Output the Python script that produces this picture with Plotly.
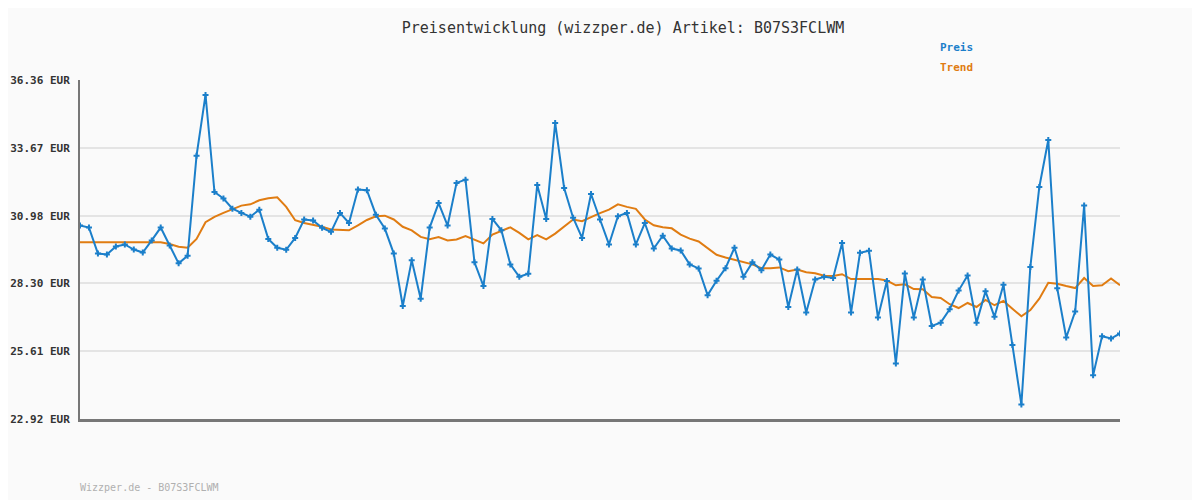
import plotly.graph_objects as go

title_text = "Preisentwicklung (wizzper.de) Artikel: B07S3FCLWM"
footer_text = "Wizzper.de - B07S3FCLWM"

preis = [
    30.59, 30.51, 29.48, 29.44, 29.76, 29.84, 29.64, 29.52, 30.00, 30.51,
    29.80, 29.09, 29.39, 33.36, 35.77, 31.92, 31.66, 31.26, 31.09, 30.94,
    31.22, 30.06, 29.71, 29.63, 30.10, 30.83, 30.79, 30.50, 30.34, 31.09,
    30.69, 32.02, 31.99, 31.02, 30.47, 29.48, 27.40, 29.21, 27.69, 30.51,
    31.48, 30.59, 32.28, 32.41, 29.13, 28.19, 30.85, 30.40, 29.05, 28.56,
    28.68, 32.20, 30.85, 34.66, 32.08, 30.90, 30.10, 31.84, 30.83, 29.84,
    30.96, 31.09, 29.84, 30.69, 29.68, 30.19, 29.68, 29.60, 29.05, 28.89,
    27.83, 28.40, 28.90, 29.71, 28.56, 29.13, 28.82, 29.44, 29.24, 27.36,
    28.85, 27.14, 28.45, 28.56, 28.51, 29.90, 27.14, 29.51, 29.59, 26.94,
    28.39, 25.12, 28.69, 26.94, 28.45, 26.61, 26.74, 27.27, 28.01, 28.61,
    26.74, 27.98, 26.97, 28.24, 25.85, 23.49, 28.95, 32.12, 33.98, 28.10,
    26.15, 27.18, 31.38, 24.65, 26.20, 26.11, 26.31,
]

trend = [
    29.93, 29.93, 29.93, 29.93, 29.93, 29.93, 29.93, 29.93, 29.93, 29.93,
    29.86, 29.75, 29.71, 30.06, 30.72, 30.93, 31.09, 31.25, 31.38, 31.43,
    31.59, 31.67, 31.71, 31.33, 30.80, 30.69, 30.63, 30.54, 30.43, 30.42,
    30.40, 30.60, 30.81, 30.96, 30.98, 30.83, 30.54, 30.40, 30.14, 30.05,
    30.13, 30.00, 30.04, 30.17, 30.04, 29.88, 30.23, 30.37, 30.52, 30.30,
    30.04, 30.21, 30.04, 30.27, 30.54, 30.83, 30.76, 30.93, 31.08, 31.22,
    31.43, 31.33, 31.25, 30.83, 30.60, 30.52, 30.48, 30.23, 30.07, 29.96,
    29.69, 29.43, 29.32, 29.23, 29.13, 29.05, 28.90, 28.90, 28.93, 28.78,
    28.85, 28.74, 28.70, 28.60, 28.59, 28.66, 28.47, 28.47, 28.49, 28.47,
    28.41, 28.22, 28.26, 28.07, 28.06, 27.76, 27.72, 27.47, 27.32, 27.52,
    27.36, 27.64, 27.43, 27.60, 27.29, 26.99, 27.24, 27.69, 28.32, 28.28,
    28.19, 28.11, 28.51, 28.19, 28.22, 28.49, 28.22,
]

y_ticks = [22.92, 25.61, 28.30, 30.98, 33.67, 36.36]
y_tick_labels = ["22.92 EUR", "25.61 EUR", "28.30 EUR", "30.98 EUR", "33.67 EUR", "36.36 EUR"]

x = list(range(len(preis)))

BLUE = "#1b7fca"
ORANGE = "#e07c12"
MONO = "DejaVu Sans Mono"

fig = go.Figure()
fig.add_trace(go.Scatter(
    x=x, y=trend, mode="lines", name="Trend",
    line=dict(color=ORANGE, width=2), hoverinfo="skip",
))
fig.add_trace(go.Scatter(
    x=x, y=preis, mode="lines+markers", name="Preis",
    line=dict(color=BLUE, width=2),
    marker=dict(symbol="cross", size=5, color=BLUE),
))

fig.update_layout(
    width=1200, height=500,
    margin=dict(l=72, r=88, t=72, b=89),
    paper_bgcolor="#fafafa", plot_bgcolor="#fafafa",
    showlegend=False,
    title=dict(text=title_text, x=0.5125, xref="container", xanchor="center",
               y=0.96, yref="container", yanchor="middle",
               font=dict(family=MONO, size=15, color="#333333")),
    xaxis=dict(range=[0, len(preis) - 1], showgrid=False, zeroline=False,
               showticklabels=False, ticks="", showline=True, automargin=False,
               linecolor="#777777", linewidth=3),
    yaxis=dict(range=[y_ticks[0], y_ticks[-1]], tickvals=y_ticks, ticktext=y_tick_labels,
               showgrid=True, gridcolor="#e4e4e4", gridwidth=2, zeroline=False,
               showline=True, linecolor="#777777", linewidth=2, ticks="",
               automargin=False, ticklabelstandoff=6,
               tickfont=dict(family=MONO, size=11, color="#333333", weight="bold")),
)

fig.add_annotation(text="Preis", xref="paper", yref="paper",
                   x=(938 - 80) / 1040, y=1 + (80 - 47) / 339, xanchor="left", yanchor="middle",
                   showarrow=False, font=dict(family=MONO, size=11, color=BLUE, weight="bold"))
fig.add_annotation(text="Trend", xref="paper", yref="paper",
                   x=(938 - 80) / 1040, y=1 + (80 - 67) / 339, xanchor="left", yanchor="middle",
                   showarrow=False, font=dict(family=MONO, size=11, color=ORANGE, weight="bold"))
fig.add_annotation(text=footer_text, xref="paper", yref="paper",
                   x=-2 / 1040, y=-(487 - 419) / 339, xanchor="left", yanchor="middle",
                   showarrow=False, font=dict(family=MONO, size=10, color="#b0b0b0"))

fig.write_html("out.html")
